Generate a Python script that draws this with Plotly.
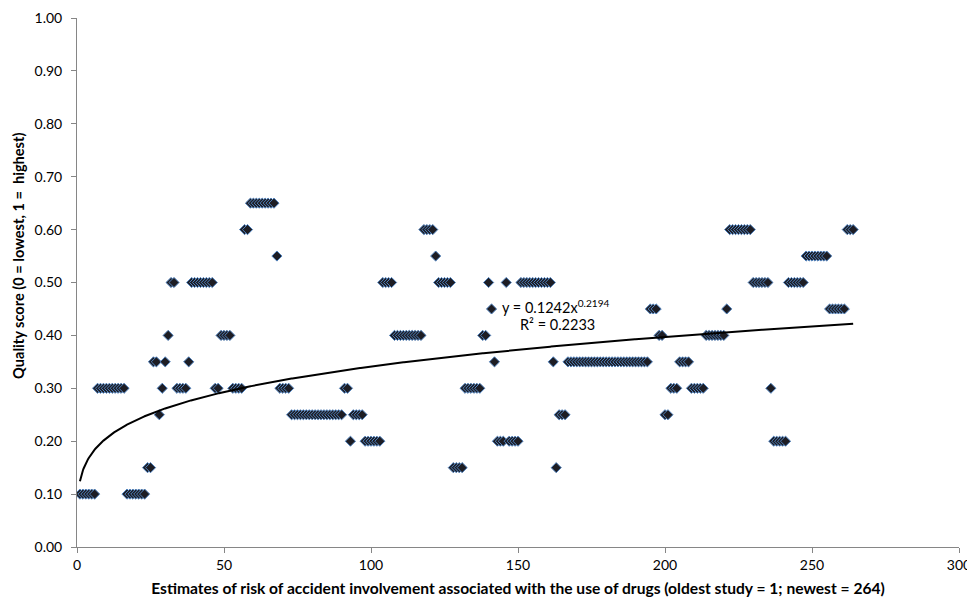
import plotly.graph_objects as go

# Quality score of each estimate, in order (oldest study = 1 ... newest = 264)
quality_scores = [
    0.10, 0.10, 0.10, 0.10, 0.10, 0.10,
    0.30, 0.30, 0.30, 0.30, 0.30, 0.30, 0.30, 0.30, 0.30, 0.30,
    0.10, 0.10, 0.10, 0.10, 0.10, 0.10, 0.10,
    0.15, 0.15, 0.35, 0.35, 0.25, 0.30, 0.35, 0.40, 0.50, 0.50,
    0.30, 0.30, 0.30, 0.30, 0.35,
    0.50, 0.50, 0.50, 0.50, 0.50, 0.50, 0.50, 0.50,
    0.30, 0.30, 0.40, 0.40, 0.40, 0.40, 0.30, 0.30, 0.30, 0.30,
    0.60, 0.60,
    0.65, 0.65, 0.65, 0.65, 0.65, 0.65, 0.65, 0.65, 0.65,
    0.55, 0.30, 0.30, 0.30, 0.30,
    0.25, 0.25, 0.25, 0.25, 0.25, 0.25, 0.25, 0.25, 0.25,
    0.25, 0.25, 0.25, 0.25, 0.25, 0.25, 0.25, 0.25, 0.25,
    0.30, 0.30, 0.20, 0.25, 0.25, 0.25, 0.25,
    0.20, 0.20, 0.20, 0.20, 0.20, 0.20,
    0.50, 0.50, 0.50, 0.50,
    0.40, 0.40, 0.40, 0.40, 0.40, 0.40, 0.40, 0.40, 0.40, 0.40,
    0.60, 0.60, 0.60, 0.60, 0.55,
    0.50, 0.50, 0.50, 0.50, 0.50,
    0.15, 0.15, 0.15, 0.15,
    0.30, 0.30, 0.30, 0.30, 0.30, 0.30,
    0.40, 0.40, 0.50, 0.45, 0.35, 0.20, 0.20, 0.20, 0.50,
    0.20, 0.20, 0.20, 0.20,
    0.50, 0.50, 0.50, 0.50, 0.50, 0.50, 0.50, 0.50, 0.50, 0.50, 0.50,
    0.35, 0.15, 0.25, 0.25, 0.25,
    0.35, 0.35, 0.35, 0.35, 0.35, 0.35, 0.35, 0.35, 0.35, 0.35,
    0.35, 0.35, 0.35, 0.35, 0.35, 0.35, 0.35, 0.35, 0.35, 0.35,
    0.35, 0.35, 0.35, 0.35, 0.35, 0.35, 0.35, 0.35,
    0.45, 0.45, 0.45, 0.40, 0.40, 0.25, 0.25, 0.30, 0.30, 0.30,
    0.35, 0.35, 0.35, 0.35,
    0.30, 0.30, 0.30, 0.30, 0.30,
    0.40, 0.40, 0.40, 0.40, 0.40, 0.40, 0.40,
    0.45,
    0.60, 0.60, 0.60, 0.60, 0.60, 0.60, 0.60, 0.60,
    0.50, 0.50, 0.50, 0.50, 0.50, 0.50,
    0.30,
    0.20, 0.20, 0.20, 0.20, 0.20,
    0.50, 0.50, 0.50, 0.50, 0.50, 0.50,
    0.55, 0.55, 0.55, 0.55, 0.55, 0.55, 0.55, 0.55,
    0.45, 0.45, 0.45, 0.45, 0.45, 0.45,
    0.60, 0.60, 0.60,
]
estimate_index = list(range(1, len(quality_scores) + 1))

# Power trendline as reported on the chart: y = a * x^b
trend_a = 0.1242
trend_b = 0.2194
trend_r2 = 0.2233
trend_x = [i / 4 for i in range(4, 4 * len(quality_scores) + 1)]
trend_y = [trend_a * x ** trend_b for x in trend_x]

x_ticks = [0, 50, 100, 150, 200, 250, 300]
y_ticks = [0.0, 0.1, 0.2, 0.3, 0.4, 0.5, 0.6, 0.7, 0.8, 0.9, 1.0]

FONT = "Lato, 'Open Sans', sans-serif"
AXIS_GREY = "#868686"

fig = go.Figure()
fig.add_trace(go.Scatter(
    x=estimate_index, y=quality_scores, mode="markers",
    marker=dict(symbol="diamond", size=7.8, color="#1d1d24",
                line=dict(color="#4f81bd", width=1)),
    showlegend=False, hoverinfo="x+y",
))
fig.add_trace(go.Scatter(
    x=trend_x, y=trend_y, mode="lines",
    line=dict(color="#000000", width=2),
    showlegend=False, hoverinfo="skip",
))

fig.add_annotation(
    x=144.0, y=0.455, xref="x", yref="y", xanchor="left", yanchor="middle",
    text=f"y = {trend_a}x<sup>{trend_b}</sup>", showarrow=False,
    font=dict(family=FONT, size=14.5, color="#000000"),
)
fig.add_annotation(
    x=150.0, y=0.42, xref="x", yref="y", xanchor="left", yanchor="middle",
    text=f"R² = {trend_r2}", showarrow=False,
    font=dict(family=FONT, size=14.5, color="#000000"),
)
# y-axis title (placed like the original, slightly above the plot centre)
fig.add_annotation(
    x=-0.067, y=0.55, xref="paper", yref="paper",
    xanchor="center", yanchor="middle", textangle=-90,
    text="<b>Quality score (0 = lowest, 1 =  highest)</b>", showarrow=False,
    font=dict(family=FONT, size=14.6, color="#000000"),
)

# The page adds an 8 px body margin, so the figure is sized to fit inside it.
fig.update_layout(
    width=967, height=595,
    margin=dict(l=69, r=16, t=10, b=56, autoexpand=False),
    paper_bgcolor="#ffffff", plot_bgcolor="#ffffff",
    font=dict(family=FONT, size=14, color="#000000"),
    xaxis=dict(
        range=[0, 300], tickmode="array", tickvals=x_ticks,
        ticks="outside", ticklen=5, tickcolor=AXIS_GREY,
        showline=True, linecolor=AXIS_GREY, linewidth=1,
        showgrid=False, zeroline=False, automargin=False,
        tickfont=dict(family=FONT, size=14),
        title=dict(
            text="<b>Estimates of risk of accident involvement associated with the use of drugs (oldest study = 1; newest = 264)</b>",
            font=dict(family=FONT, size=15.6), standoff=11),
    ),
    yaxis=dict(
        range=[0, 1], tickmode="array", tickvals=y_ticks, tickformat=".2f",
        ticks="outside", ticklen=5, tickcolor=AXIS_GREY,
        showline=True, linecolor=AXIS_GREY, linewidth=1,
        showgrid=False, zeroline=False, automargin=False,
        ticklabelstandoff=6,
        tickfont=dict(family=FONT, size=14),
    ),
)

fig.write_html("out.html")
